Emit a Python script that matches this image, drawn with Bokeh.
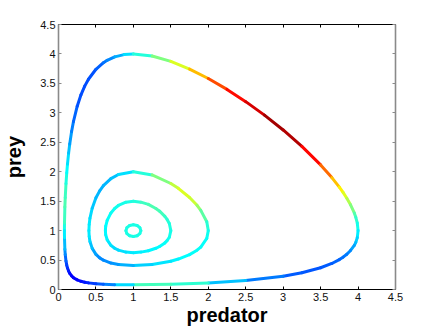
from bokeh.plotting import figure
from bokeh.models import ColumnDataSource, Range1d, LinearAxis, FixedTicker
from bokeh.embed import file_html
from bokeh.resources import INLINE

# ---- data ----
# outer orbit (predator, prey) and colour level (0..1 on a jet scale)
outer_x = [0.079, 0.08, 0.085, 0.09, 0.10, 0.11, 0.12, 0.135, 0.15, 0.175, 0.20, 0.25, 0.30, 0.35,
           0.40, 0.50, 0.60, 0.65, 0.75, 0.875, 1.00, 1.25, 1.50, 1.75, 2.00, 2.25, 2.50, 2.75, 3.00, 3.25,
           3.50, 3.65, 3.75, 3.80, 3.85, 3.90, 3.95, 3.97, 3.99, 4.00, 3.99, 3.97, 3.95, 3.90,
           3.85, 3.80, 3.75, 3.65, 3.50, 3.25, 3.00, 2.50, 2.00, 1.50, 1.00, 0.75, 0.60, 0.50,
           0.40, 0.35, 0.30, 0.25, 0.20, 0.175, 0.15, 0.135, 0.12, 0.11, 0.10, 0.09, 0.085, 0.08,
           0.079]
outer_y = [1.00, 1.13, 1.40, 1.561, 1.797, 1.979, 2.129, 2.316, 2.471, 2.682, 2.853, 3.113, 3.306, 3.453,
           3.57, 3.74, 3.851, 3.892, 3.95, 3.989, 4.00, 3.964, 3.874, 3.743, 3.583, 3.398, 3.19, 2.961, 2.709, 2.43,
           2.116, 1.90, 1.739, 1.649, 1.55, 1.438, 1.30, 1.226, 1.128, 1.00, 0.882, 0.801, 0.75, 0.663,
           0.5985, 0.549, 0.508, 0.442, 0.369, 0.284, 0.226, 0.153, 0.111, 0.088, 0.0794, 0.0826, 0.0895, 0.098,
           0.1125, 0.1237, 0.1395, 0.163, 0.201, 0.2312, 0.275, 0.3123, 0.365, 0.4137, 0.483, 0.593, 0.684, 0.88,
           1.00]
outer_c = [0.38, 0.42, 0.45, 0.45, 0.42, 0.39, 0.36, 0.33, 0.30, 0.26, 0.24, 0.21, 0.20, 0.20,
           0.20, 0.21, 0.23, 0.25, 0.27, 0.32, 0.37, 0.45, 0.55, 0.63, 0.75, 0.85, 0.88, 0.95, 0.98, 0.92,
           0.82, 0.72, 0.65, 0.62, 0.57, 0.53, 0.47, 0.44, 0.41, 0.38, 0.34, 0.32, 0.30, 0.27,
           0.25, 0.24, 0.23, 0.22, 0.21, 0.21, 0.22, 0.27, 0.36, 0.48, 0.40, 0.28, 0.23, 0.20,
           0.17, 0.15, 0.14, 0.13, 0.12, 0.12, 0.13, 0.14, 0.16, 0.18, 0.20, 0.25, 0.28, 0.34,
           0.38]

mid_x = [0.406, 0.41, 0.42, 0.45, 0.50, 0.55, 0.60, 0.70, 0.80, 1.00, 1.25, 1.50, 1.60, 1.75, 1.85,
         1.90, 1.98, 2.00, 1.98, 1.90, 1.85, 1.75, 1.60, 1.50, 1.25, 1.00, 0.80, 0.70, 0.60, 0.55,
         0.50, 0.45, 0.42, 0.41, 0.406]
mid_y = [1.00, 1.105, 1.21, 1.381, 1.557, 1.675, 1.764, 1.883, 1.953, 2.00, 1.946, 1.80, 1.718, 1.562, 1.43,
         1.344, 1.15, 1.00, 0.868, 0.72, 0.667, 0.592, 0.517, 0.4805, 0.4255, 0.406, 0.423, 0.449, 0.498, 0.537,
         0.596, 0.698, 0.815, 0.90, 1.00]
mid_c = [0.36, 0.36, 0.35, 0.33, 0.31, 0.30, 0.30, 0.31, 0.32, 0.37, 0.45, 0.55, 0.58, 0.60, 0.55,
         0.50, 0.43, 0.40, 0.38, 0.38, 0.38, 0.38, 0.37, 0.36, 0.34, 0.32, 0.28, 0.27, 0.26, 0.26,
         0.27, 0.30, 0.33, 0.35, 0.36]

inner_x = [0.626, 0.63, 0.65, 0.70, 0.75, 0.80, 0.90, 1.00, 1.10, 1.20, 1.30, 1.35, 1.42, 1.45, 1.48,
           1.50, 1.48, 1.45, 1.42, 1.35, 1.30, 1.20, 1.10, 1.00, 0.90, 0.80, 0.75, 0.70, 0.65, 0.63,
           0.626]
inner_y = [1.00, 1.072, 1.175, 1.30, 1.376, 1.427, 1.482, 1.50, 1.483, 1.445, 1.376, 1.33, 1.241, 1.19, 1.12,
           1.00, 0.887, 0.83, 0.791, 0.73, 0.70, 0.658, 0.635, 0.626, 0.635, 0.668, 0.70, 0.75, 0.844, 0.93,
           1.00]
inner_c = [0.37, 0.37, 0.38, 0.38, 0.39, 0.39, 0.40, 0.40, 0.42, 0.45, 0.45, 0.45, 0.43, 0.42, 0.41,
           0.40, 0.39, 0.39, 0.38, 0.38, 0.37, 0.37, 0.36, 0.36, 0.35, 0.34, 0.34, 0.34, 0.36, 0.37,
           0.37]

small_x = [1.10, 1.087, 1.05, 1.00, 0.95, 0.913, 0.90, 0.913, 0.95, 1.00, 1.05, 1.087, 1.10]
small_y = [1.00, 1.05, 1.087, 1.10, 1.087, 1.05, 1.00, 0.95, 0.913, 0.90, 0.913, 0.95, 1.00]
small_c = [0.40, 0.40, 0.40, 0.40, 0.40, 0.40, 0.40, 0.40, 0.40, 0.40, 0.40, 0.40, 0.40]

tick_values = [0, 0.5, 1, 1.5, 2, 2.5, 3, 3.5, 4, 4.5]
tick_labels = ["0", "0.5", "1", "1.5", "2", "2.5", "3", "3.5", "4", "4.5"]
x_label = "predator"
y_label = "prey"


def jet(v):
    r = min(max(1.5 - abs(4 * v - 3), 0), 1)
    g = min(max(1.5 - abs(4 * v - 2), 0), 1)
    b = min(max(1.5 - abs(4 * v - 1), 0), 1)
    return "#%02x%02x%02x" % (int(r * 255), int(g * 255), int(b * 255))


W, H = 436, 328
p = figure(width=W, height=H, output_backend="svg", toolbar_location=None,
           x_range=Range1d(0, 4.5), y_range=Range1d(0, 4.5),
           x_axis_location=None, y_axis_location=None,
           min_border_left=57, min_border_right=41, min_border_top=24, min_border_bottom=38)
p.grid.visible = False
p.outline_line_color = None
p.background_fill_color = "white"
p.border_fill_color = "white"

labels = {float(v): t for v, t in zip(tick_values, tick_labels)}


def make_axis(color, show_labels, width=1, label=None, label_standoff=0):
    ax = LinearAxis(ticker=FixedTicker(ticks=tick_values, minor_ticks=[]))
    ax.major_label_overrides = labels
    ax.axis_line_color = color
    ax.axis_line_width = width
    ax.major_tick_line_color = color
    ax.major_tick_in = 3
    ax.major_tick_out = 0
    ax.minor_tick_line_color = None
    ax.major_label_standoff = 3
    ax.major_label_text_font = "Liberation Sans"
    ax.major_label_text_font_size = "11px"
    ax.major_label_text_color = "#111111" if show_labels else None
    if label:
        ax.axis_label = label
        ax.axis_label_standoff = label_standoff
        ax.axis_label_text_font = "Liberation Sans"
        ax.axis_label_text_font_style = "bold"
        ax.axis_label_text_font_size = "20px"
        ax.axis_label_text_color = "black"
    return ax


p.add_layout(make_axis("black", True, 1, x_label, 0), "below")
p.add_layout(make_axis("black", False), "above")
p.add_layout(make_axis("#8a8a8a", True, 1.6, y_label, 12), "left")
p.add_layout(make_axis("#8a8a8a", False, 1.6), "right")


def draw(xs, ys, cs, lw):
    x0, y0, x1, y1, col = [], [], [], [], []
    for i in range(len(xs) - 1):
        x0.append(xs[i]); y0.append(ys[i]); x1.append(xs[i + 1]); y1.append(ys[i + 1])
        col.append(jet((cs[i] + cs[i + 1]) / 2))
    src = ColumnDataSource(dict(x0=x0, y0=y0, x1=x1, y1=y1, color=col))
    p.segment("x0", "y0", "x1", "y1", source=src, line_color="color",
              line_width=lw, line_cap="round")


draw(outer_x, outer_y, outer_c, 3)
draw(mid_x, mid_y, mid_c, 3)
draw(inner_x, inner_y, inner_c, 3)
draw(small_x, small_y, small_c, 3)

open("out.html", "w").write(file_html(p, INLINE))
